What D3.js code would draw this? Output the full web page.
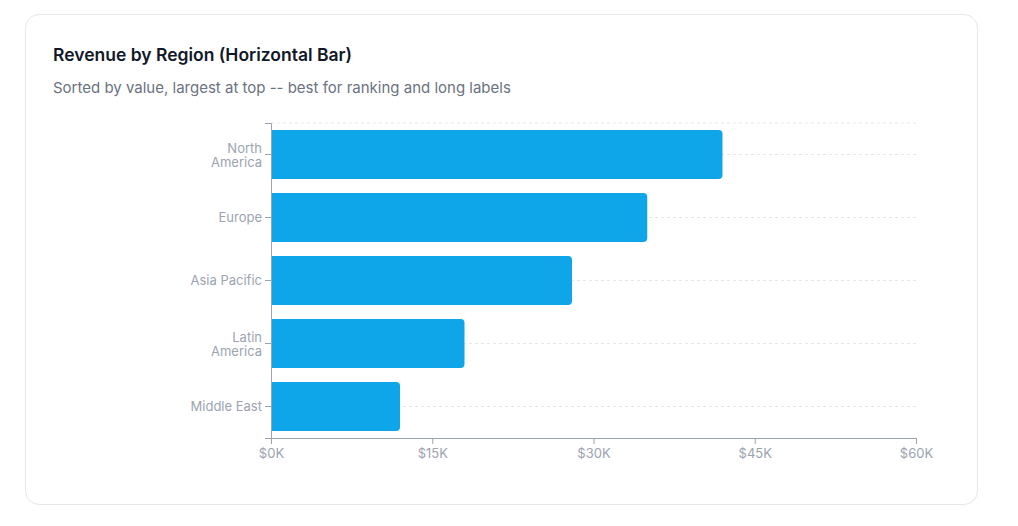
<!DOCTYPE html>
<html>
<head>
<meta charset="utf-8">
<script src="https://cdn.jsdelivr.net/npm/d3@7"></script>
<style>
    body { margin: 0; background: #fff; font-family: Inter, "Noto Sans", sans-serif; }
    #card {
        position: absolute; left: 25px; top: 14px; width: 953px; height: 491px;
        border: 1px solid #e5e7eb; border-radius: 14px; box-sizing: border-box; background: #fff;
    }
    #title { position: absolute; left: 27px; top: 29px; font-size: 17.5px; font-weight: 600; color: #111827; }
    #subtitle { position: absolute; left: 27px; top: 63px; font-size: 15px; color: #6b7280; }
    #chart { position: absolute; left: 0; top: 0; }
</style>
</head>
<body>
<div id="card">
    <div id="title">Revenue by Region (Horizontal Bar)</div>
    <div id="subtitle">Sorted by value, largest at top -- best for ranking and long labels</div>
</div>
<svg id="chart" width="1018" height="526"></svg>
<script>
const regions = ['North America', 'Europe', 'Asia Pacific', 'Latin America', 'Middle East'];
const revenue = [42000, 35000, 28000, 18000, 12000];
const xTicks = [0, 15000, 30000, 45000, 60000];

const margin = { left: 271, right: 102, top: 123, bottom: 88 };
const width = 1018, height = 526;

const svg = d3.select('#chart');

const x = d3.scaleLinear()
    .domain([0, 60000])
    .range([margin.left, width - margin.right]);

const y = d3.scaleBand()
    .domain(regions)
    .range([margin.top, height - margin.bottom])
    .paddingInner(0.22)
    .paddingOuter(0.11);

const data = regions.map((r, i) => ({ region: r, value: revenue[i] }));

// dashed grid: top edge plus each category centre
const gridYs = [margin.top].concat(regions.map(r => y(r) + y.bandwidth() / 2));
svg.append('g')
    .selectAll('line')
    .data(gridYs)
    .enter().append('line')
    .attr('x1', x(0))
    .attr('x2', x(60000))
    .attr('y1', d => d)
    .attr('y2', d => d)
    .attr('stroke', '#e5e7eb')
    .attr('stroke-dasharray', '3 3');

// bars, rounded on the right end only
const r = 4;
svg.append('g')
    .selectAll('path')
    .data(data)
    .enter().append('path')
    .attr('fill', '#0ea5e9')
    .attr('d', d => {
        const x0 = x(0), x1 = x(d.value);
        const y0 = y(d.region), y1 = y0 + y.bandwidth();
        return `M${x0},${y0}H${x1 - r}Q${x1},${y0} ${x1},${y0 + r}V${y1 - r}Q${x1},${y1} ${x1 - r},${y1}H${x0}Z`;
    });

// x axis
const xAxis = svg.append('g')
    .attr('transform', `translate(0,${height - margin.bottom})`)
    .call(d3.axisBottom(x).tickValues(xTicks).tickSizeOuter(0).tickSize(6)
        .tickFormat(d => `$${d / 1000}K`));
xAxis.select('.domain').attr('stroke', '#9ca3af');
xAxis.selectAll('.tick line').attr('stroke', '#9ca3af');
xAxis.selectAll('.tick text')
    .attr('fill', '#9ca3af')
    .attr('font-size', 13)
    .attr('font-family', 'Inter, sans-serif')
    .attr('dy', '0.82em');

// y axis
const yAxis = svg.append('g')
    .attr('transform', `translate(${margin.left},0)`)
    .call(d3.axisLeft(y).tickSizeOuter(0).tickSize(6).tickPadding(3));
yAxis.select('.domain').attr('stroke', '#9ca3af');
yAxis.selectAll('.tick line').attr('stroke', '#9ca3af');
yAxis.selectAll('.tick text')
    .attr('fill', '#9ca3af')
    .attr('font-size', 13)
    .attr('font-family', 'Inter, sans-serif')
    .each(function (d) {
        const t = d3.select(this);
        const words = d.split(' ');
        if (words.length > 1 && d !== 'Asia Pacific' && d !== 'Middle East') {
            t.text(null);
            words.forEach((w, i) => {
                t.append('tspan')
                    .attr('x', -9)
                    .attr('dy', i === 0 ? '-0.12em' : '1.08em')
                    .text(w);
            });
        }
    });
</script>
</body>
</html>
